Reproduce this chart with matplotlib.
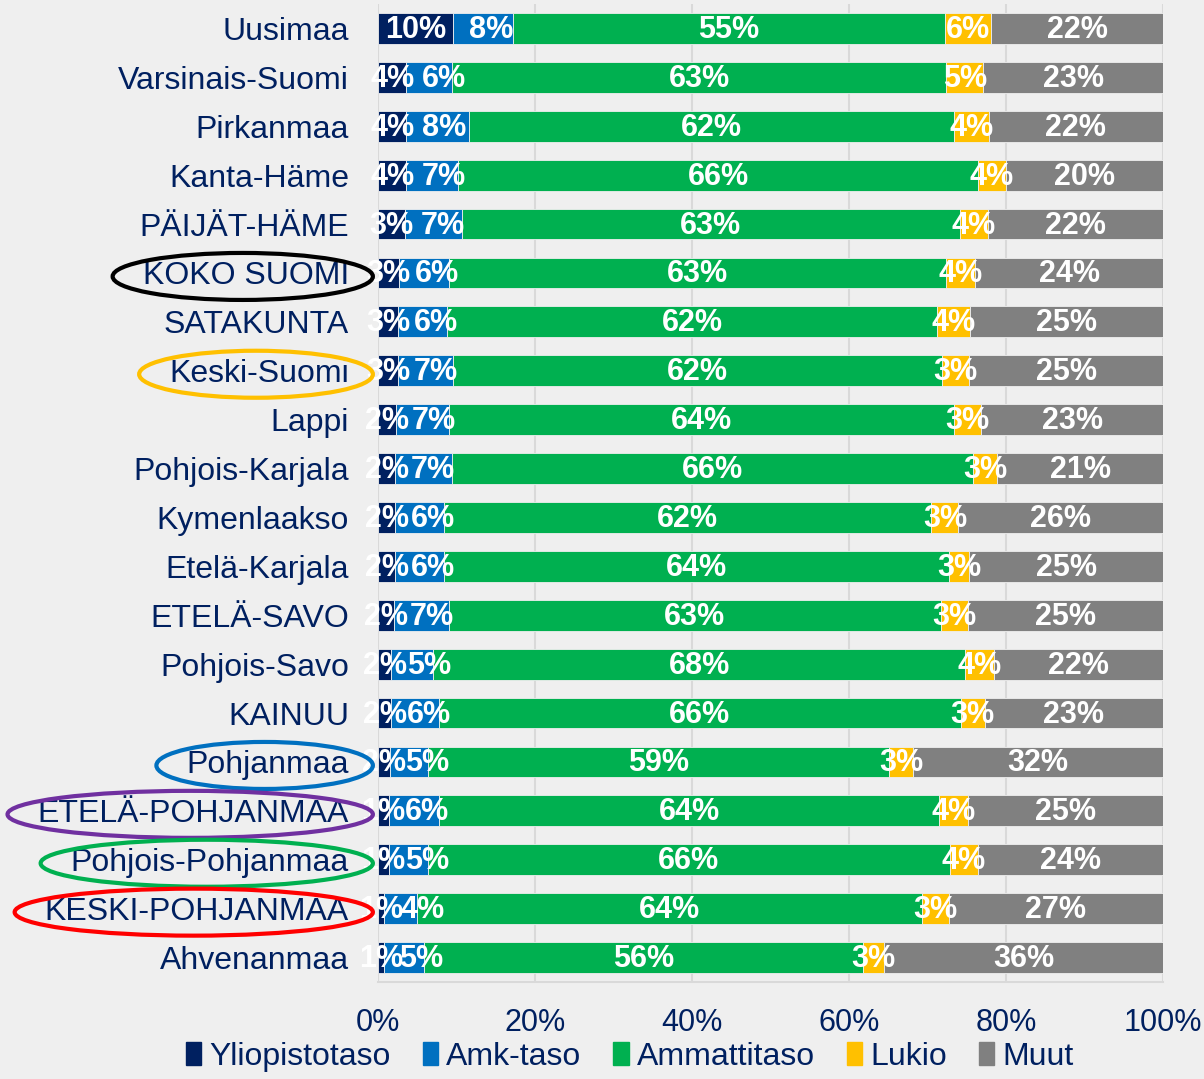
import matplotlib
matplotlib.use("Agg")
import matplotlib.pyplot as plt
from matplotlib.patches import Ellipse, Patch
import numpy as np

plt.rcParams["font.family"] = ["Liberation Sans", "DejaVu Sans"]

# regions, top to bottom
regions = [
    "Uusimaa", "Varsinais-Suomi", "Pirkanmaa", "Kanta-Häme", "PÄIJÄT-HÄME",
    "KOKO SUOMI", "SATAKUNTA", "Keski-Suomi", "Lappi", "Pohjois-Karjala",
    "Kymenlaakso", "Etelä-Karjala", "ETELÄ-SAVO", "Pohjois-Savo", "KAINUU",
    "Pohjanmaa", "ETELÄ-POHJANMAA", "Pohjois-Pohjanmaa", "KESKI-POHJANMAA",
    "Ahvenanmaa",
]

# shares in percent
yliopisto = [9.6, 3.6, 3.6, 3.6, 3.4, 2.7, 2.6, 2.6, 2.3, 2.2,
             2.2, 2.2, 2.0, 1.7, 1.7, 1.5, 1.4, 1.4, 0.8, 0.7]
amk = [7.6, 5.8, 8.0, 6.6, 7.3, 6.3, 6.2, 6.9, 6.7, 7.2,
       6.2, 6.2, 7.0, 5.3, 6.1, 4.9, 6.4, 5.0, 4.2, 5.2]
ammatti = [55.0, 63.0, 61.8, 66.2, 63.4, 63.4, 62.4, 62.4, 64.4, 66.4,
           62.1, 64.3, 62.7, 67.8, 66.4, 58.7, 63.7, 66.4, 64.3, 55.9]
lukio = [5.9, 4.7, 4.4, 3.6, 3.6, 3.7, 4.2, 3.4, 3.4, 3.1,
         3.4, 2.6, 3.4, 3.6, 3.1, 3.0, 3.7, 3.6, 3.4, 2.6]
muut = [21.9, 22.9, 22.2, 20.0, 22.3, 23.9, 24.6, 24.7, 23.2, 21.1,
        26.1, 24.7, 24.9, 21.6, 22.7, 31.9, 24.8, 23.6, 27.3, 35.6]

series_names = ["Yliopistotaso", "Amk-taso", "Ammattitaso", "Lukio", "Muut"]
series_colors = ["#002060", "#0070C0", "#00B050", "#FFC000", "#808080"]

# highlighted labels and their ring colours
highlight = {
    "KOKO SUOMI": "#000000",
    "Keski-Suomi": "#FFC000",
    "Pohjanmaa": "#0070C0",
    "ETELÄ-POHJANMAA": "#7030A0",
    "Pohjois-Pohjanmaa": "#00B050",
    "KESKI-POHJANMAA": "#FF0000",
}

bg = "#EFEFEF"
navy = "#002060"

fig = plt.figure(figsize=(12.04, 10.79), dpi=100, facecolor=bg)
ax = fig.add_axes([0.314, 0.0899, 0.652, 0.9064])
ax.set_facecolor(bg)

y = np.arange(len(regions))
left = np.zeros(len(regions))
series = [yliopisto, amk, ammatti, lukio, muut]
for vals, name, col in zip(series, series_names, series_colors):
    vals = np.array(vals)
    ax.barh(y, vals, left=left, height=0.63, color=col, label=name,
            edgecolor=bg, linewidth=0.6, zorder=2)
    left += vals

# data labels (Amk-taso labels sit near the segment base, others centred)
left = np.zeros(len(regions))
for k, vals in enumerate(series):
    vals = np.array(vals)
    for i, v in enumerate(vals):
        if k == 1:
            ax.text(left[i] + 2.0, i + 0.03, f"{v:.0f}%", ha="left", va="center",
                    color="white", fontsize=22, fontweight="bold", zorder=4)
        else:
            ax.text(left[i] + v / 2, i + 0.03, f"{v:.0f}%", ha="center", va="center",
                    color="white", fontsize=22, fontweight="bold", zorder=4)
    left += vals

ax.set_xlim(0, 100)
ax.set_ylim(len(regions) - 0.5, -0.5)
ax.set_xticks(np.arange(0, 101, 20))
ax.set_xticklabels([f"{t}%" for t in range(0, 101, 20)])
ax.set_yticks(y)
ax.set_yticklabels(regions)
ax.tick_params(axis="y", length=0, pad=21, labelsize=23, labelcolor=navy)
ax.tick_params(axis="x", length=0, pad=19, labelsize=22, labelcolor=navy)
ax.xaxis.grid(True, color="#D9D9D9", linewidth=1.5, zorder=0)
ax.set_axisbelow(True)
for s in ["top", "right", "left"]:
    ax.spines[s].set_visible(False)
ax.spines["bottom"].set_color("#D9D9D9")
ax.spines["bottom"].set_linewidth(1.5)

# rings around highlighted region names
fig.canvas.draw()
inv = fig.transFigure.inverted()
for lab in ax.get_yticklabels():
    txt = lab.get_text()
    if txt in highlight:
        bb = lab.get_window_extent()
        (x0, y0), (x1, y1) = inv.transform([(bb.x0 - 30, bb.y0), (bb.x1 + 24, bb.y1)])
        cy = (y0 + y1) / 2
        h = 47 / fig.bbox.height
        e = Ellipse(((x0 + x1) / 2, cy), x1 - x0, h, transform=fig.transFigure,
                    fill=False, edgecolor=highlight[txt], linewidth=3.0, zorder=5)
        fig.patches.append(e)

handles = [Patch(color=c, label=n) for n, c in zip(series_names, series_colors)]
leg = fig.legend(handles=handles, loc="lower center", bbox_to_anchor=(0.523, -0.02),
                 ncol=5, frameon=False, fontsize=23, handlelength=0.48, handleheight=0.7,
                 handletextpad=0.25, columnspacing=1.0)
for t in leg.get_texts():
    t.set_color(navy)

fig.savefig("out.png", dpi=100, facecolor=bg)
